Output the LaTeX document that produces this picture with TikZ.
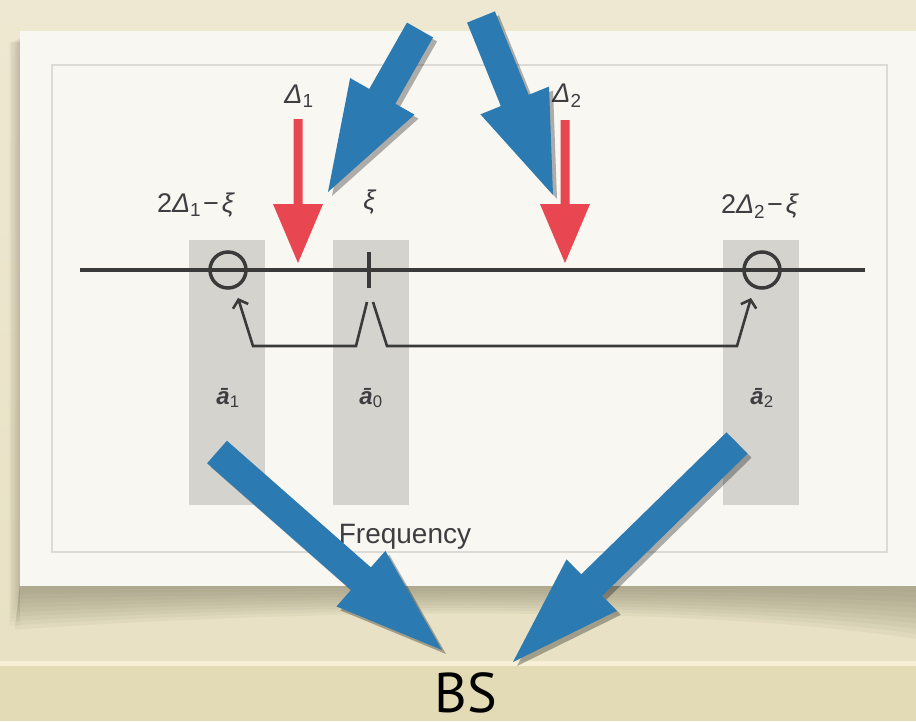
\documentclass[tikz,border=0pt]{standalone}
\usepackage{fontspec}
\setmainfont{Liberation Sans}
\newfontfamily\bsfont{PT Sans}
\usetikzlibrary{calc,shadows,arrows.meta}

\definecolor{bgtop}{RGB}{238,232,210}
\definecolor{bgmid}{RGB}{232,225,196}
\definecolor{bglow}{RGB}{227,219,181}
\definecolor{bgline}{RGB}{248,240,214}
\definecolor{cardfill}{RGB}{248,247,241}
\definecolor{framegray}{RGB}{220,219,214}
\definecolor{shadowgray}{RGB}{140,136,112}
\definecolor{bandgray}{RGB}{212,211,206}
\definecolor{axisgray}{RGB}{58,58,58}
\definecolor{labelgray}{RGB}{62,62,66}
\definecolor{pumpred}{RGB}{232,70,80}
\definecolor{noteblue}{RGB}{44,122,178}

% block arrow: #1 tail, #2 tip, #3 shaft half-width, #4 head half-width, #5 head length
\newcommand\bluearrow[5]{%
  \path ($(#2)!#5!(#1)$) coordinate (hb);
  \fill[note arrow] ($(#1)!#3!90:(#2)$) -- ($(hb)!#3!-90:(#1)$) -- ($(hb)!#4!-90:(#1)$)
    -- (#2) -- ($(hb)!#4!90:(#1)$) -- ($(hb)!#3!90:(#1)$) -- ($(#1)!#3!-90:(#2)$) -- cycle;}

% red pump arrow: #1 top of shaft, #2 tip
\newcommand\redarrow[2]{%
  \fill[pumpred] ($(#1)+(-4.5,0)$) -- ($(#2)+(-4.5,-59)$) -- ($(#2)+(-25,-59)$) -- (#2)
    -- ($(#2)+(25,-59)$) -- ($(#2)+(4.5,-59)$) -- ($(#1)+(4.5,0)$) -- cycle;}

\begin{document}
\begin{tikzpicture}[x=1pt,y=-1pt,
  lbl/.style={text=labelgray, font=\fontsize{27}{32}\selectfont, inner sep=0pt},
  amp/.style={text=labelgray, font=\fontsize{24}{28}\selectfont\bfseries\itshape, inner sep=0pt},
  band/.style={fill=bandgray},
  axis/.style={draw=axisgray, line width=3.2pt},
  ring/.style={circle, draw=axisgray, line width=3.5pt, minimum size=36pt, inner sep=0pt},
  conn/.style={draw=axisgray, line width=2.6pt, line join=miter,
    -{Straight Barb[length=7pt,width=16pt]}},
  soft/.style={fill=shadowgray, opacity=0.085},
  note arrow/.style={fill=noteblue,
    drop shadow={shadow xshift=4pt, shadow yshift=-4pt, opacity=0.3, fill=black}}]
\useasboundingbox (0,0) rectangle (916,721);

% backdrop
\shade[top color=bgtop, bottom color=bgmid] (0,0) rectangle (916,663);
\fill[bglow] (0,663) rectangle (916,721);
\fill[bgline] (0,661) rectangle (916,666);

% soft shadow of the card, built up in thin layers
\foreach \k in {0,...,9} {
  \fill[soft] (20,584) -- (916,584) -- (916,{592+5.2*\k})
    .. controls (700,{587+2.2*\k}) and (350,{587+2.2*\k}) .. ({20-0.6*\k},{590+4.4*\k}) -- cycle;
  \fill[soft, opacity=0.05] ({19-1.1*\k},{38+0.5*\k}) rectangle (20,{590+4*\k});
}

% card and inner frame
\fill[cardfill] (20,31) rectangle (916,586);
\draw[framegray, line width=1.5pt] (52,65) rectangle (887,552);

% frequency bands
\fill[band] (189,240) rectangle (265,505);
\fill[band] (333,240) rectangle (409,505);
\fill[band] (723,240) rectangle (799,505);

% frequency axis with the three lines
\draw[axis] (80,270) -- (865,270);
\node[ring] (o1) at (228,270) {};
\node[ring] (o2) at (762,270) {};
\draw[axisgray, line width=4pt] (369,252) -- (369,288);

% conversion paths
\coordinate (s1) at (367,302);
\coordinate (s2) at (373,302);
\coordinate (t1) at (238,298);
\coordinate (t2) at (751,298);
\draw[conn] (s1) -- (356,346) -- (253,346) -- (t1);
\draw[conn] (s2) -- (387,346) -- (737,346) -- (t2);

% labels
\node[lbl] (d1) at (299,96) {\textit{Δ}\textsubscript{1}};
\node[lbl] (d2) at (567,96) {\textit{Δ}\textsubscript{2}};
\node[lbl] (f1) at (196,205) {2\textit{Δ}\textsubscript{1}\kern2pt−\kern3pt\textit{ξ}};
\node[lbl] (xi) at (370,202) {\textit{ξ}};
\node[lbl] (f2) at (760,206) {2\textit{Δ}\textsubscript{2}\kern2pt−\kern3pt\textit{ξ}};
\node[amp] (a1) at (228,398) {ā\textsubscript{\mdseries\upshape 1}};
\node[amp] (a0) at (371,398) {ā\textsubscript{\mdseries\upshape 0}};
\node[amp] (a2) at (762,398) {ā\textsubscript{\mdseries\upshape 2}};
\node[lbl, font=\fontsize{28}{32}\selectfont] (fq) at (405,537) {Frequency};

% pump arrows
\coordinate (p1) at (298,119);
\coordinate (q1) at (298,263);
\coordinate (p2) at (565,120);
\coordinate (q2) at (565,263);
\redarrow{p1}{q1}
\redarrow{p2}{q2}

% base-station caption
\node[font=\bsfont\fontsize{56}{60}\selectfont, inner sep=0pt, anchor=base] (bs) at (466,712) {BS};

% pointer arrows
\coordinate (aT) at (420,30);  \coordinate (aH) at (328,192);
\coordinate (bT) at (481,17);  \coordinate (bH) at (553,195);
\coordinate (cT) at (217,452); \coordinate (cH) at (442,650);
\coordinate (dT) at (737,443); \coordinate (dH) at (513,662);
\bluearrow{aT}{aH}{15pt}{37pt}{110pt}
\bluearrow{bT}{bH}{15pt}{37pt}{102pt}
\bluearrow{cT}{cH}{15pt}{37pt}{108pt}
\bluearrow{dT}{dH}{15pt}{36pt}{110pt}
\end{tikzpicture}
\end{document}
